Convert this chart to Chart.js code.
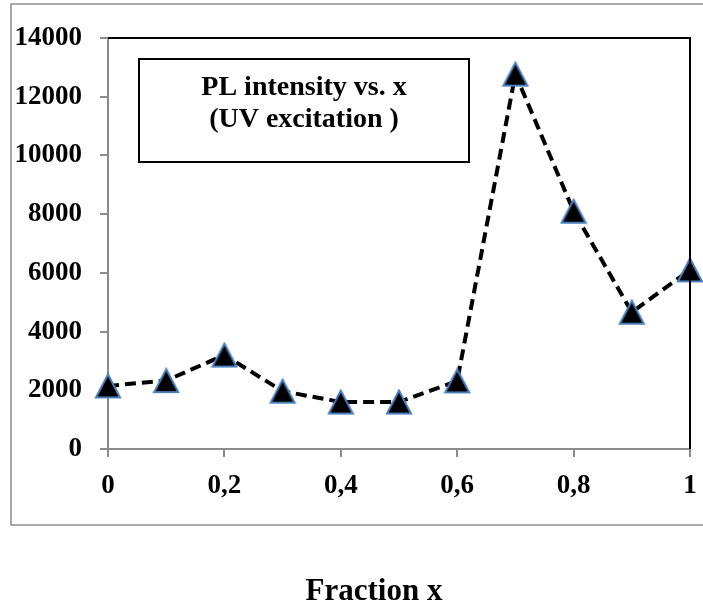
<!DOCTYPE html>
<html>
<head>
<meta charset="utf-8">
<script src="https://cdn.jsdelivr.net/npm/chart.js@4/dist/chart.umd.min.js"></script>
<style>
  html, body { margin: 0; padding: 0; background: #fff; }
  #wrap { width: 703px; height: 608px; position: relative; }
</style>
</head>
<body>
<div id="wrap"><canvas id="pl-chart"></canvas></div>
<script>
// data
const fractionX = [0, 0.1, 0.2, 0.3, 0.4, 0.5, 0.6, 0.7, 0.8, 0.9, 1];
const plIntensity = [2150, 2330, 3200, 1970, 1600, 1600, 2320, 12770, 8100, 4660, 6100];
const boxLines = ["PL intensity vs. x", "(UV excitation )"];
const xTitle = "Fraction x";

const serif = "'Liberation Serif', 'Times New Roman', serif";

// triangle marker: black fill, blue outline, centred on its bounding box like Excel
function makeTriangle() {
    const c = document.createElement("canvas");
    c.width = 28;
    c.height = 27;
    const g = c.getContext("2d");
    g.beginPath();
    g.moveTo(14, 2);
    g.lineTo(26, 25);
    g.lineTo(2, 25);
    g.closePath();
    g.fillStyle = "#000";
    g.fill();
    g.lineWidth = 2;
    g.strokeStyle = "#4a7ebb";
    g.stroke();
    return c;
}
const tri = makeTriangle();

const points = fractionX.map((x, i) => ({ x: x, y: plIntensity[i] }));

// frame, text box and axis title
const decor = {
    id: "decor",
    beforeDraw(chart) {
        const ctx = chart.ctx;
        ctx.save();
        ctx.strokeStyle = "#8c8c8c";
        ctx.lineWidth = 1.5;
        ctx.strokeRect(11, 4, 720, 521);
        ctx.restore();
    },
    afterDatasetsDraw(chart) {
        const { ctx, chartArea: a } = chart;
        ctx.save();
        ctx.strokeStyle = "#000";
        ctx.lineWidth = 2;
        ctx.beginPath();
        ctx.moveTo(a.left, a.top);
        ctx.lineTo(a.right, a.top);
        ctx.lineTo(a.right, a.bottom);
        ctx.stroke();
        ctx.restore();
    },
    afterDraw(chart) {
        const ctx = chart.ctx;
        ctx.save();
        ctx.fillStyle = "#fff";
        ctx.fillRect(139, 59, 330, 103);
        ctx.strokeStyle = "#000";
        ctx.lineWidth = 2;
        ctx.strokeRect(139, 59, 330, 103);
        ctx.fillStyle = "#000";
        ctx.textAlign = "center";
        ctx.textBaseline = "alphabetic";
        ctx.font = "bold 28px " + serif;
        ctx.fillText(boxLines[0], 304, 95);
        ctx.fillText(boxLines[1], 304, 127);
        ctx.font = "bold 31px " + serif;
        ctx.fillText(xTitle, 374, 600);
        ctx.restore();
    }
};

new Chart(document.getElementById("pl-chart"), {
    type: "line",
    data: {
        datasets: [
            {
                label: "PL intensity",
                data: points,
                borderColor: "#000",
                borderWidth: 4,
                borderDash: [11, 6],
                tension: 0,
                fill: false,
                pointStyle: tri,
                pointRadius: 14,
                pointHoverRadius: 14,
                clip: false,
            },
        ],
    },
    options: {
        responsive: true,
        maintainAspectRatio: false,
        animation: false,
        layout: {
            autoPadding: false,
            padding: { top: 38, right: 13, left: 0, bottom: 0 },
        },
        plugins: {
            legend: { display: false },
            tooltip: { enabled: false },
        },
        scales: {
            x: {
                type: "linear",
                min: 0,
                max: 1,
                afterFit(scale) {
                    scale.height = 159;
                    scale.paddingLeft = 0;
                    scale.paddingRight = 0;
                },
                grid: {
                    drawOnChartArea: false,
                    drawTicks: true,
                    tickLength: 8,
                    color: "#8c8c8c",
                    lineWidth: 2,
                },
                border: { color: "#8c8c8c", width: 2 },
                ticks: {
                    stepSize: 0.2,
                    padding: 13,
                    color: "#000",
                    maxRotation: 0,
                    font: { family: serif, size: 27, weight: "bold" },
                    callback: (v) => String(Number(v.toFixed(1))).replace(".", ","),
                },
            },
            y: {
                min: 0,
                max: 14000,
                afterFit(scale) { scale.width = 108; },
                grid: {
                    drawOnChartArea: false,
                    drawTicks: true,
                    tickLength: 8,
                    color: "#8c8c8c",
                    lineWidth: 2,
                },
                border: { color: "#8c8c8c", width: 2 },
                ticks: {
                    stepSize: 2000,
                    padding: 18,
                    color: "#000",
                    font: { family: serif, size: 27, weight: "bold" },
                    callback: (v) => String(v),
                },
            },
        },
    },
    plugins: [decor],
});
</script>
</body>
</html>
